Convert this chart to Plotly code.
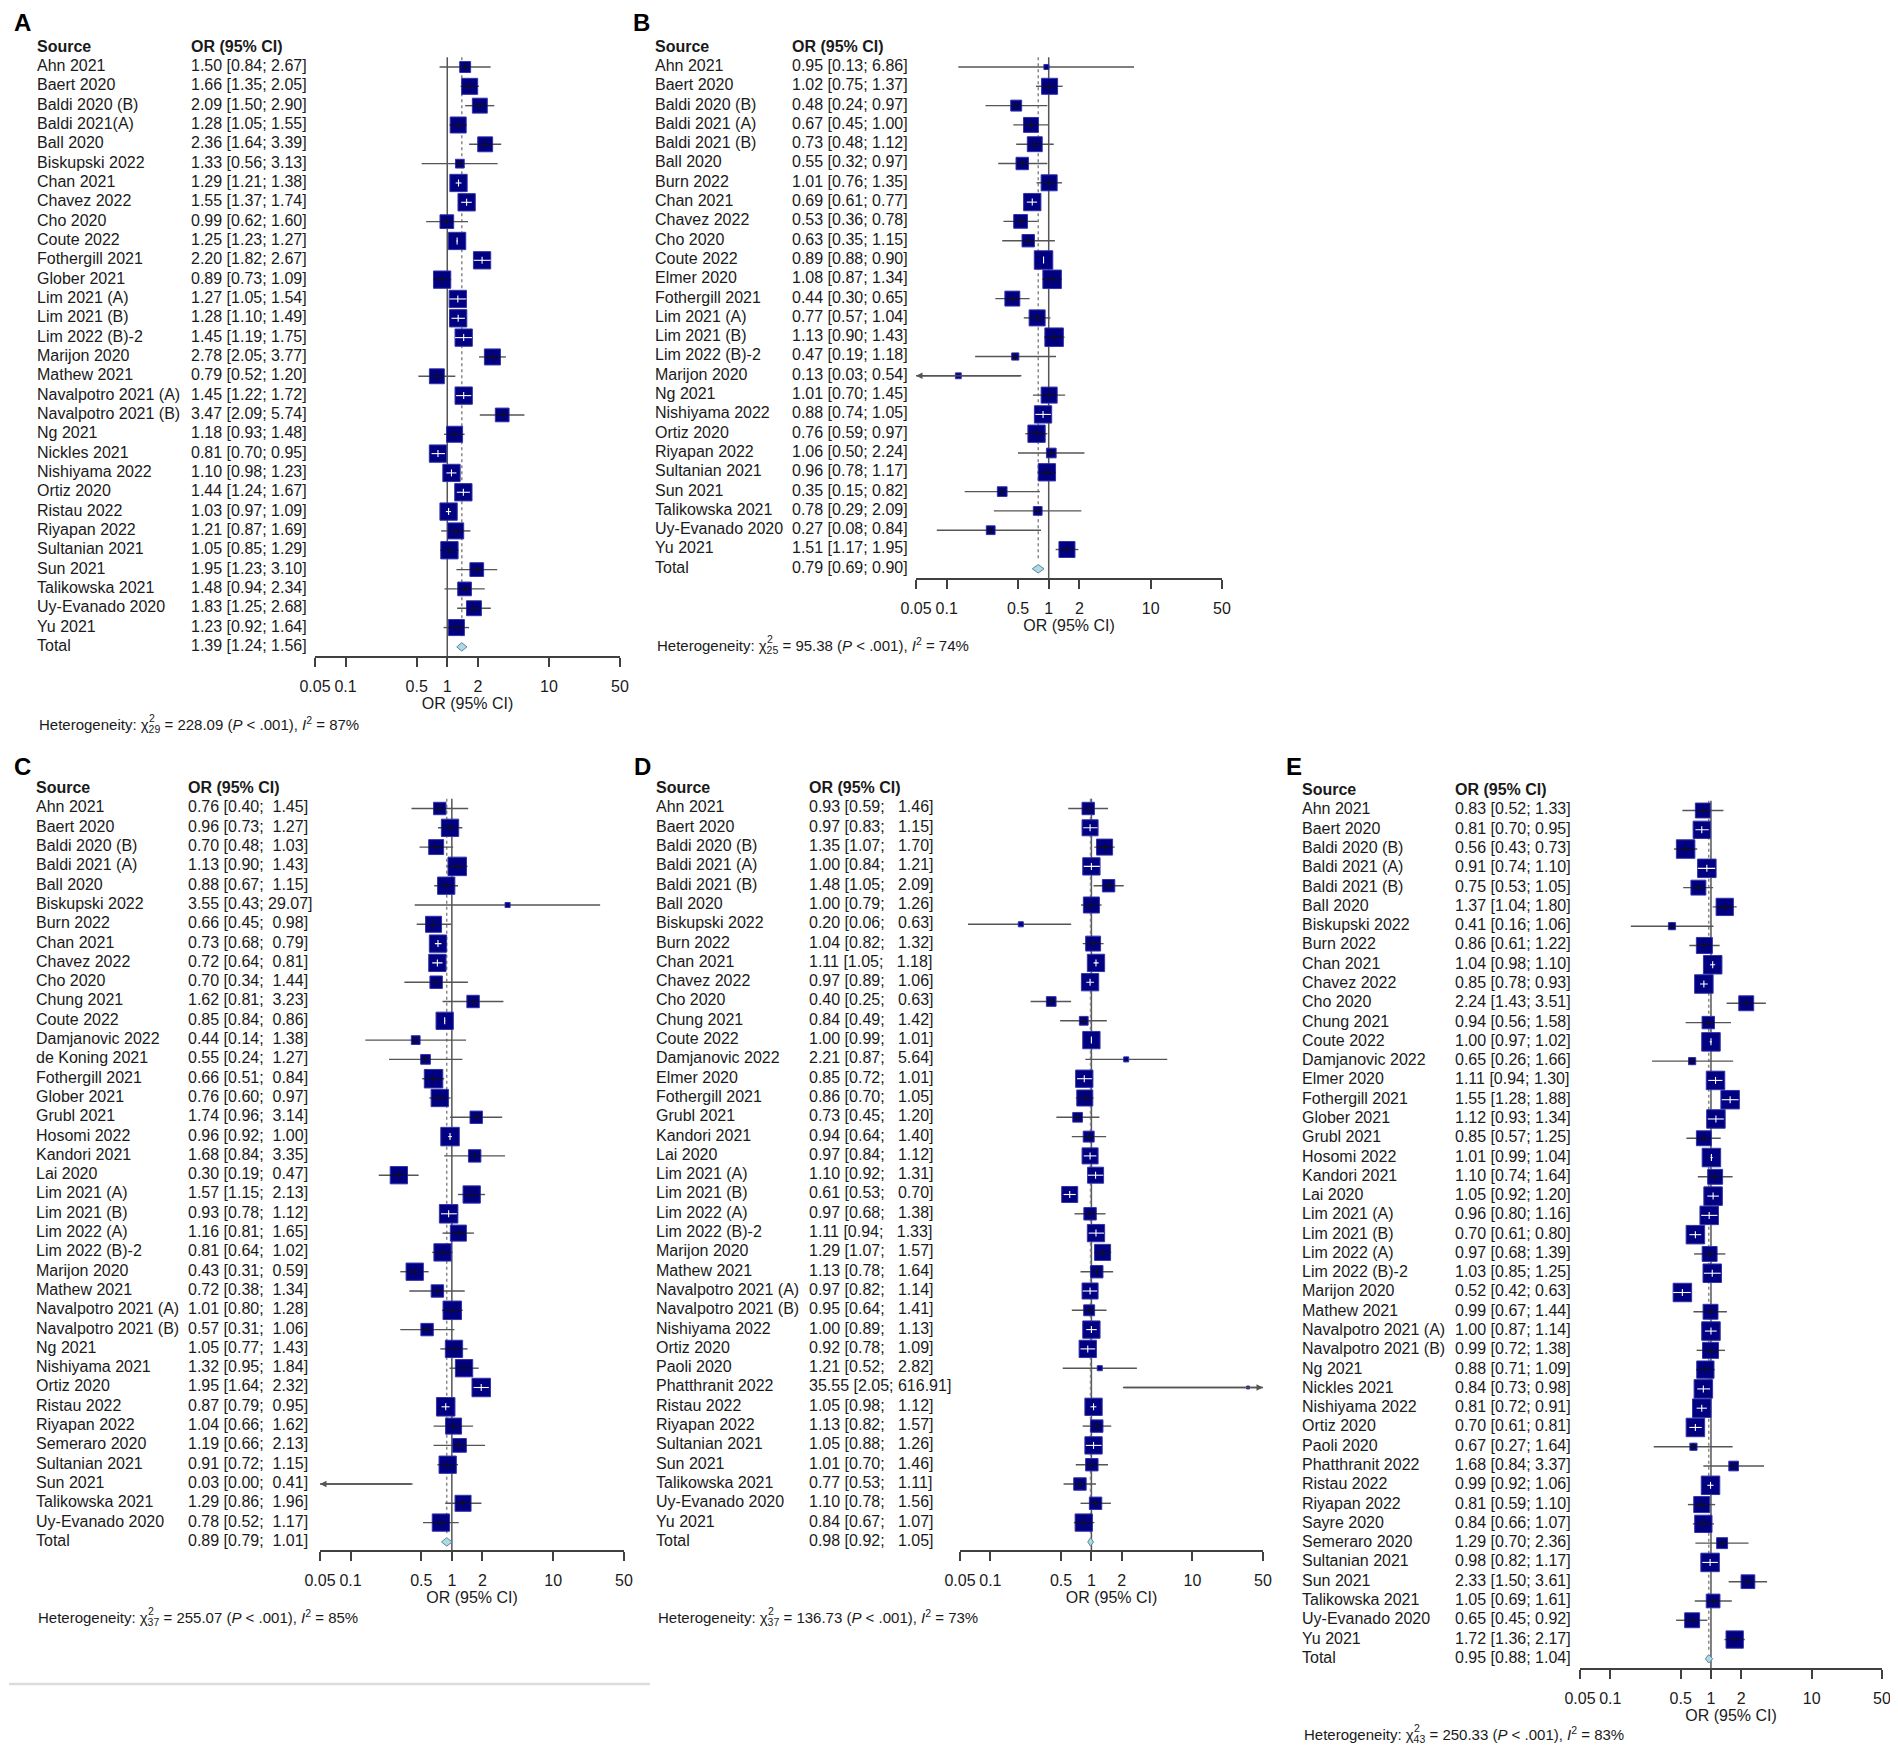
import numpy as np
import plotly.graph_objects as go

# the page body keeps an 8px margin, so the figure is drawn 8px in from the corner
PAGE_W, PAGE_H, OFF = 1898, 1751, 8
W, H = PAGE_W - OFF, PAGE_H - 2 * OFF
FONT = "Liberation Sans, Arial, sans-serif"
NB = "\u00a0"

# ---------------- panel A ----------------
src_a = ["Ahn 2021", "Baert 2020", "Baldi 2020 (B)", "Baldi 2021(A)", "Ball 2020", "Biskupski 2022",
         "Chan 2021", "Chavez 2022", "Cho 2020", "Coute 2022", "Fothergill 2021", "Glober 2021",
         "Lim 2021 (A)", "Lim 2021 (B)", "Lim 2022 (B)-2", "Marijon 2020", "Mathew 2021",
         "Navalpotro 2021 (A)", "Navalpotro 2021 (B)", "Ng 2021", "Nickles 2021", "Nishiyama 2022",
         "Ortiz 2020", "Ristau 2022", "Riyapan 2022", "Sultanian 2021", "Sun 2021", "Talikowska 2021",
         "Uy-Evanado 2020", "Yu 2021"]
or_a = [1.50, 1.66, 2.09, 1.28, 2.36, 1.33, 1.29, 1.55, 0.99, 1.25, 2.20, 0.89, 1.27, 1.28, 1.45,
        2.78, 0.79, 1.45, 3.47, 1.18, 0.81, 1.10, 1.44, 1.03, 1.21, 1.05, 1.95, 1.48, 1.83, 1.23]
lo_a = [0.84, 1.35, 1.50, 1.05, 1.64, 0.56, 1.21, 1.37, 0.62, 1.23, 1.82, 0.73, 1.05, 1.10, 1.19,
        2.05, 0.52, 1.22, 2.09, 0.93, 0.70, 0.98, 1.24, 0.97, 0.87, 0.85, 1.23, 0.94, 1.25, 0.92]
hi_a = [2.67, 2.05, 2.90, 1.55, 3.39, 3.13, 1.38, 1.74, 1.60, 1.27, 2.67, 1.09, 1.54, 1.49, 1.75,
        3.77, 1.20, 1.72, 5.74, 1.48, 0.95, 1.23, 1.67, 1.09, 1.69, 1.29, 3.10, 2.34, 2.68, 1.64]
w_a = [1.4, 3.0, 2.6, 3.0, 2.6, 0.9, 3.5, 3.5, 2.2, 3.5, 3.5, 3.5, 3.5, 3.5, 3.5, 3.0, 2.6, 3.5,
       2.2, 3.0, 3.5, 3.5, 3.5, 3.5, 3.0, 3.5, 2.2, 2.2, 2.6, 3.0]
tot_a = (1.39, 1.24, 1.56)
het_a = ("29", "228.09", "87")

# ---------------- panel B ----------------
src_b = ["Ahn 2021", "Baert 2020", "Baldi 2020 (B)", "Baldi 2021 (A)", "Baldi 2021 (B)", "Ball 2020",
         "Burn 2022", "Chan 2021", "Chavez 2022", "Cho 2020", "Coute 2022", "Elmer 2020",
         "Fothergill 2021", "Lim 2021 (A)", "Lim 2021 (B)", "Lim 2022 (B)-2", "Marijon 2020",
         "Ng 2021", "Nishiyama 2022", "Ortiz 2020", "Riyapan 2022", "Sultanian 2021", "Sun 2021",
         "Talikowska 2021", "Uy-Evanado 2020", "Yu 2021"]
or_b = [0.95, 1.02, 0.48, 0.67, 0.73, 0.55, 1.01, 0.69, 0.53, 0.63, 0.89, 1.08, 0.44, 0.77, 1.13,
        0.47, 0.13, 1.01, 0.88, 0.76, 1.06, 0.96, 0.35, 0.78, 0.27, 1.51]
lo_b = [0.13, 0.75, 0.24, 0.45, 0.48, 0.32, 0.76, 0.61, 0.36, 0.35, 0.88, 0.87, 0.30, 0.57, 0.90,
        0.19, 0.03, 0.70, 0.74, 0.59, 0.50, 0.78, 0.15, 0.29, 0.08, 1.17]
hi_b = [6.86, 1.37, 0.97, 1.00, 1.12, 0.97, 1.35, 0.77, 0.78, 1.15, 0.90, 1.34, 0.65, 1.04, 1.43,
        1.18, 0.54, 1.45, 1.05, 0.97, 2.24, 1.17, 0.82, 2.09, 0.84, 1.95]
w_b = [0.3, 3.0, 1.4, 2.6, 2.6, 1.8, 3.0, 3.5, 2.2, 1.8, 4.0, 4.0, 2.6, 3.0, 4.0, 0.6, 0.4, 3.0,
       3.5, 3.5, 1.1, 3.5, 1.1, 0.9, 0.9, 3.0]
tot_b = (0.79, 0.69, 0.90)
het_b = ("25", "95.38", "74")

# ---------------- panel C ----------------
src_c = ["Ahn 2021", "Baert 2020", "Baldi 2020 (B)", "Baldi 2021 (A)", "Ball 2020", "Biskupski 2022",
         "Burn 2022", "Chan 2021", "Chavez 2022", "Cho 2020", "Chung 2021", "Coute 2022",
         "Damjanovic 2022", "de Koning 2021", "Fothergill 2021", "Glober 2021", "Grubl 2021",
         "Hosomi 2022", "Kandori 2021", "Lai 2020", "Lim 2021 (A)", "Lim 2021 (B)", "Lim 2022 (A)",
         "Lim 2022 (B)-2", "Marijon 2020", "Mathew 2021", "Navalpotro 2021 (A)", "Navalpotro 2021 (B)",
         "Ng 2021", "Nishiyama 2021", "Ortiz 2020", "Ristau 2022", "Riyapan 2022", "Semeraro 2020",
         "Sultanian 2021", "Sun 2021", "Talikowska 2021", "Uy-Evanado 2020"]
or_c = [0.76, 0.96, 0.70, 1.13, 0.88, 3.55, 0.66, 0.73, 0.72, 0.70, 1.62, 0.85, 0.44, 0.55, 0.66,
        0.76, 1.74, 0.96, 1.68, 0.30, 1.57, 0.93, 1.16, 0.81, 0.43, 0.72, 1.01, 0.57, 1.05, 1.32,
        1.95, 0.87, 1.04, 1.19, 0.91, 0.03, 1.29, 0.78]
lo_c = [0.40, 0.73, 0.48, 0.90, 0.67, 0.43, 0.45, 0.68, 0.64, 0.34, 0.81, 0.84, 0.14, 0.24, 0.51,
        0.60, 0.96, 0.92, 0.84, 0.19, 1.15, 0.78, 0.81, 0.64, 0.31, 0.38, 0.80, 0.31, 0.77, 0.95,
        1.64, 0.79, 0.66, 0.66, 0.72, 0.00, 0.86, 0.52]
hi_c = [1.45, 1.27, 1.03, 1.43, 1.15, 29.07, 0.98, 0.79, 0.81, 1.44, 3.23, 0.86, 1.38, 1.27, 0.84,
        0.97, 3.14, 1.00, 3.35, 0.47, 2.13, 1.12, 1.65, 1.02, 0.59, 1.34, 1.28, 1.06, 1.43, 1.84,
        2.32, 0.95, 1.62, 2.13, 1.15, 0.41, 1.96, 1.17]
w_c = [1.8, 3.5, 2.6, 4.0, 3.5, 0.3, 3.0, 3.5, 3.5, 1.8, 1.8, 3.5, 0.9, 1.1, 4.0, 3.5, 1.8, 4.0,
       1.8, 3.5, 3.5, 4.0, 3.0, 3.5, 3.5, 1.8, 4.0, 1.8, 3.5, 3.5, 4.0, 4.0, 3.0, 2.2, 3.5, 0.1,
       3.0, 3.5]
tot_c = (0.89, 0.79, 1.01)
het_c = ("37", "255.07", "85")

# ---------------- panel D ----------------
src_d = ["Ahn 2021", "Baert 2020", "Baldi 2020 (B)", "Baldi 2021 (A)", "Baldi 2021 (B)", "Ball 2020",
         "Biskupski 2022", "Burn 2022", "Chan 2021", "Chavez 2022", "Cho 2020", "Chung 2021",
         "Coute 2022", "Damjanovic 2022", "Elmer 2020", "Fothergill 2021", "Grubl 2021",
         "Kandori 2021", "Lai 2020", "Lim 2021 (A)", "Lim 2021 (B)", "Lim 2022 (A)", "Lim 2022 (B)-2",
         "Marijon 2020", "Mathew 2021", "Navalpotro 2021 (A)", "Navalpotro 2021 (B)", "Nishiyama 2022",
         "Ortiz 2020", "Paoli 2020", "Phatthranit 2022", "Ristau 2022", "Riyapan 2022",
         "Sultanian 2021", "Sun 2021", "Talikowska 2021", "Uy-Evanado 2020", "Yu 2021"]
or_d = [0.93, 0.97, 1.35, 1.00, 1.48, 1.00, 0.20, 1.04, 1.11, 0.97, 0.40, 0.84, 1.00, 2.21, 0.85,
        0.86, 0.73, 0.94, 0.97, 1.10, 0.61, 0.97, 1.11, 1.29, 1.13, 0.97, 0.95, 1.00, 0.92, 1.21,
        35.55, 1.05, 1.13, 1.05, 1.01, 0.77, 1.10, 0.84]
lo_d = [0.59, 0.83, 1.07, 0.84, 1.05, 0.79, 0.06, 0.82, 1.05, 0.89, 0.25, 0.49, 0.99, 0.87, 0.72,
        0.70, 0.45, 0.64, 0.84, 0.92, 0.53, 0.68, 0.94, 1.07, 0.78, 0.82, 0.64, 0.89, 0.78, 0.52,
        2.05, 0.98, 0.82, 0.88, 0.70, 0.53, 0.78, 0.67]
hi_d = [1.46, 1.15, 1.70, 1.21, 2.09, 1.26, 0.63, 1.32, 1.18, 1.06, 0.63, 1.42, 1.01, 5.64, 1.01,
        1.05, 1.20, 1.40, 1.12, 1.31, 0.70, 1.38, 1.33, 1.57, 1.64, 1.14, 1.41, 1.13, 1.09, 2.82,
        616.91, 1.12, 1.57, 1.26, 1.46, 1.11, 1.56, 1.07]
w_d = [1.8, 3.0, 3.0, 3.5, 1.8, 3.0, 0.3, 2.6, 3.5, 3.5, 1.1, 0.9, 3.5, 0.3, 3.5, 3.0, 1.1, 1.4,
       3.0, 3.0, 3.0, 1.8, 3.5, 3.0, 1.8, 3.0, 1.4, 3.5, 3.5, 0.3, 0.1, 3.5, 1.8, 3.5, 1.8, 1.8,
       1.8, 3.5]
tot_d = (0.98, 0.92, 1.05)
het_d = ("37", "136.73", "73")

# ---------------- panel E ----------------
src_e = ["Ahn 2021", "Baert 2020", "Baldi 2020 (B)", "Baldi 2021 (A)", "Baldi 2021 (B)", "Ball 2020",
         "Biskupski 2022", "Burn 2022", "Chan 2021", "Chavez 2022", "Cho 2020", "Chung 2021",
         "Coute 2022", "Damjanovic 2022", "Elmer 2020", "Fothergill 2021", "Glober 2021", "Grubl 2021",
         "Hosomi 2022", "Kandori 2021", "Lai 2020", "Lim 2021 (A)", "Lim 2021 (B)", "Lim 2022 (A)",
         "Lim 2022 (B)-2", "Marijon 2020", "Mathew 2021", "Navalpotro 2021 (A)", "Navalpotro 2021 (B)",
         "Ng 2021", "Nickles 2021", "Nishiyama 2022", "Ortiz 2020", "Paoli 2020", "Phatthranit 2022",
         "Ristau 2022", "Riyapan 2022", "Sayre 2020", "Semeraro 2020", "Sultanian 2021", "Sun 2021",
         "Talikowska 2021", "Uy-Evanado 2020", "Yu 2021"]
or_e = [0.83, 0.81, 0.56, 0.91, 0.75, 1.37, 0.41, 0.86, 1.04, 0.85, 2.24, 0.94, 1.00, 0.65, 1.11,
        1.55, 1.12, 0.85, 1.01, 1.10, 1.05, 0.96, 0.70, 0.97, 1.03, 0.52, 0.99, 1.00, 0.99, 0.88,
        0.84, 0.81, 0.70, 0.67, 1.68, 0.99, 0.81, 0.84, 1.29, 0.98, 2.33, 1.05, 0.65, 1.72]
lo_e = [0.52, 0.70, 0.43, 0.74, 0.53, 1.04, 0.16, 0.61, 0.98, 0.78, 1.43, 0.56, 0.97, 0.26, 0.94,
        1.28, 0.93, 0.57, 0.99, 0.74, 0.92, 0.80, 0.61, 0.68, 0.85, 0.42, 0.67, 0.87, 0.72, 0.71,
        0.73, 0.72, 0.61, 0.27, 0.84, 0.92, 0.59, 0.66, 0.70, 0.82, 1.50, 0.69, 0.45, 1.36]
hi_e = [1.33, 0.95, 0.73, 1.10, 1.05, 1.80, 1.06, 1.22, 1.10, 0.93, 3.51, 1.58, 1.02, 1.66, 1.30,
        1.88, 1.34, 1.25, 1.04, 1.64, 1.20, 1.16, 0.80, 1.39, 1.25, 0.63, 1.44, 1.14, 1.38, 1.09,
        0.98, 0.91, 0.81, 1.64, 3.37, 1.06, 1.10, 1.07, 2.36, 1.17, 3.61, 1.61, 0.92, 2.17]
w_e = [2.6, 3.5, 4.0, 4.0, 2.6, 3.5, 0.6, 3.0, 4.0, 4.0, 2.6, 1.8, 4.0, 0.6, 4.0, 4.0, 4.0, 2.6,
       4.0, 2.6, 4.0, 4.0, 4.0, 2.6, 4.0, 4.0, 2.6, 4.0, 3.0, 3.5, 4.0, 4.0, 4.0, 0.6, 1.1, 4.0,
       3.0, 3.5, 1.4, 4.0, 2.2, 2.2, 2.6, 3.5]
tot_e = (0.95, 0.88, 1.04)
het_e = ("43", "250.33", "83")

ticks = [0.05, 0.1, 0.5, 1, 2, 10, 50]
tick_text = ["0.05", "0.1", "0.5", "1", "2", "10", "50"]

# page geometry of each panel, in page pixels (lab = left edge and top of the panel letter)
panels = [
    ("A", src_a, or_a, lo_a, hi_a, w_a, tot_a, het_a,
     dict(lab=(13, 8), src=37, ci=191, r0=67, dy=19.33, ax=656, f0=315, f1=620, het=724)),
    ("B", src_b, or_b, lo_b, hi_b, w_b, tot_b, het_b,
     dict(lab=(632, 8), src=655, ci=792, r0=67, dy=19.3, ax=578, f0=916, f1=1222, het=645)),
    ("C", src_c, or_c, lo_c, hi_c, w_c, tot_c, het_c,
     dict(lab=(13, 752), src=36, ci=188, r0=808.5, dy=19.3, ax=1550, f0=320, f1=624, het=1617)),
    ("D", src_d, or_d, lo_d, hi_d, w_d, tot_d, het_d,
     dict(lab=(633, 752), src=656, ci=809, r0=808.5, dy=19.3, ax=1550, f0=960, f1=1263, het=1617)),
    ("E", src_e, or_e, lo_e, hi_e, w_e, tot_e, het_e,
     dict(lab=(1285, 752), src=1302, ci=1455, r0=810.5, dy=19.28, ax=1668, f0=1580, f1=1882, het=1734)),
]


def px_x(v):
    return (v - OFF) / W


def px_y(v):
    return 1 - (v - OFF) / H


XMIN, XMAX = 0.05, 50
CI_COL = "#555555"
BOX = "#000080"
TXT = "#1a1a1a"


def fmt_rows(est, lo, hi):
    s_lo = [f"{v:.2f}" for v in lo]
    s_hi = [f"{v:.2f}" for v in hi]
    wl = max(len(s) for s in s_lo)
    wh = max(len(s) for s in s_hi)
    return [f"{e:.2f} [{NB * (wl - len(a))}{a};{NB}{NB * (wh - len(b))}{b}]"
            for e, a, b in zip(est, s_lo, s_hi)]


fig = go.Figure()
annotations = []
layout_axes = {}

for k, (letter, names, est, lo, hi, w, tot, het, g) in enumerate(panels, start=1):
    assert len(names) == len(est) == len(lo) == len(hi) == len(w)
    n = len(names)
    xa, xt, ya = f"x{k}", f"x{k + 5}", f"y{k}"
    ppd = (g["f1"] - g["f0"]) / (np.log10(XMAX) - np.log10(XMIN))
    ybot = (g["ax"] - g["r0"]) / g["dy"]
    ytop = -1.6
    top_px = g["r0"] + ytop * g["dy"]

    est = np.array(est)
    lo = np.array(lo)
    hi = np.array(hi)
    side = 18.5 * np.sqrt(np.array(w) / 4.0)
    rows = np.arange(n)

    # reference line at 1 and dotted line at pooled estimate
    fig.add_trace(go.Scatter(x=[1, 1], y=[-0.5, ybot], mode="lines", xaxis=xa, yaxis=ya,
                             line=dict(color="#555555", width=1.5), hoverinfo="skip"))
    fig.add_trace(go.Scatter(x=[tot[0], tot[0]], y=[-0.5, n - 0.45], mode="lines", xaxis=xa, yaxis=ya,
                             line=dict(color="#888888", width=1.5, dash="dot"), hoverinfo="skip"))

    # confidence interval lines (clipped to axis range)
    cl = np.clip(lo, XMIN, XMAX)
    ch = np.clip(hi, XMIN, XMAX)
    xs, ys = [], []
    for i in range(n):
        xs += [cl[i], ch[i], None]
        ys += [i, i, None]
    fig.add_trace(go.Scatter(x=xs, y=ys, mode="lines", xaxis=xa, yaxis=ya,
                             line=dict(color=CI_COL, width=1.4), hoverinfo="skip"))

    # squares
    vis = (est >= XMIN) & (est <= XMAX)
    fig.add_trace(go.Scatter(x=est[vis], y=rows[vis], mode="markers", xaxis=xa, yaxis=ya,
                             marker=dict(symbol="square", size=side[vis], color=BOX, opacity=1,
                                         line=dict(color="#3333aa", width=1)),
                             hoverinfo="skip"))

    # line segment drawn over each square (white when the whole CI fits inside the square)
    span = (np.log10(ch) - np.log10(cl)) * ppd
    inside = span < side
    for flag, col in ((True, "white"), (False, "#111111")):
        xs, ys, tx, ty = [], [], [], []
        for i in range(n):
            if inside[i] != flag or not vis[i] or side[i] < 6:
                continue
            half = side[i] / 2.0 / ppd
            a = max(cl[i], est[i] * 10 ** (-half))
            b = min(ch[i], est[i] * 10 ** half)
            xs += [a, b, None]
            ys += [i, i, None]
            tx.append(est[i])
            ty.append(i)
        if xs:
            fig.add_trace(go.Scatter(x=xs, y=ys, mode="lines", xaxis=xa, yaxis=ya,
                                     line=dict(color=col, width=1.1), hoverinfo="skip"))
            fig.add_trace(go.Scatter(x=tx, y=ty, mode="markers", xaxis=xa, yaxis=ya,
                                     marker=dict(symbol="line-ns", size=5, opacity=1,
                                                 line=dict(color=col, width=1.1)),
                                     hoverinfo="skip"))

    # arrows for intervals running past the axis
    for i in range(n):
        if lo[i] < XMIN:
            annotations.append(dict(x=np.log10(XMIN), y=i, ax=np.log10(ch[i]), ay=i,
                                    xref=xa, yref=ya, axref=xa, ayref=ya, text="",
                                    showarrow=True, arrowhead=2, arrowsize=1, arrowwidth=1.3,
                                    arrowcolor=CI_COL))
        if hi[i] > XMAX:
            annotations.append(dict(x=np.log10(XMAX), y=i, ax=np.log10(cl[i]), ay=i,
                                    xref=xa, yref=ya, axref=xa, ayref=ya, text="",
                                    showarrow=True, arrowhead=2, arrowsize=1, arrowwidth=1.3,
                                    arrowcolor=CI_COL))

    # pooled diamond
    e0, l0, h0 = tot
    fig.add_trace(go.Scatter(x=[l0, e0, h0, e0, l0], y=[n, n - 0.22, n, n + 0.22, n],
                             mode="lines", fill="toself", fillcolor="#add8e6", xaxis=xa, yaxis=ya,
                             line=dict(color="#5f8896", width=1), hoverinfo="skip"))

    # table columns
    ci_txt = fmt_rows(list(est) + [e0], list(lo) + [l0], list(hi) + [h0])
    fig.add_trace(go.Scatter(x=[g["src"]] * (n + 1), y=list(range(n + 1)), mode="text",
                             text=list(names) + ["Total"], textposition="middle right",
                             textfont=dict(family=FONT, size=16, color=TXT), cliponaxis=False,
                             xaxis=xt, yaxis=ya, hoverinfo="skip"))
    fig.add_trace(go.Scatter(x=[g["ci"]] * (n + 1), y=list(range(n + 1)), mode="text",
                             text=ci_txt, textposition="middle right",
                             textfont=dict(family=FONT, size=16, color=TXT), cliponaxis=False,
                             xaxis=xt, yaxis=ya, hoverinfo="skip"))
    fig.add_trace(go.Scatter(x=[g["src"], g["ci"]], y=[-1, -1], mode="text",
                             text=["<b>Source</b>", "<b>OR (95% CI)</b>"], textposition="middle right",
                             textfont=dict(family=FONT, size=16, color=TXT), cliponaxis=False,
                             xaxis=xt, yaxis=ya, hoverinfo="skip"))

    # axes
    layout_axes[f"xaxis{k}"] = dict(
        type="log", range=[np.log10(XMIN), np.log10(XMAX)], domain=[px_x(g["f0"]), px_x(g["f1"])],
        anchor=ya, tickvals=ticks, ticktext=tick_text, ticks="outside", ticklen=9, tickwidth=1.5,
        tickcolor="#404040", showline=True, linecolor="#404040", linewidth=1.5, showgrid=False,
        zeroline=False, automargin=False, tickfont=dict(family=FONT, size=16, color=TXT),
        ticklabelstandoff=6,
        title=dict(text="OR (95% CI)", font=dict(family=FONT, size=16, color=TXT), standoff=2))
    layout_axes[f"xaxis{k + 5}"] = dict(
        range=[g["src"], g["f0"]], domain=[px_x(g["src"]), px_x(g["f0"])], anchor=ya, visible=False,
        automargin=False)
    layout_axes[f"yaxis{k}"] = dict(
        range=[ybot, ytop], domain=[px_y(g["ax"]), px_y(top_px)], anchor=xa, visible=False,
        automargin=False)

    # panel letter and heterogeneity line (the chi-square "2" sits above its df subscript)
    annotations.append(dict(x=px_x(g["lab"][0]), y=px_y(g["lab"][1]), xref="paper", yref="paper",
                            text=f"<b>{letter}</b>", showarrow=False, xanchor="left", yanchor="top",
                            borderpad=0, font=dict(family=FONT, size=24, color="#000000")))
    df, chi, i2 = het
    annotations.append(dict(
        x=px_x(g["src"]), y=px_y(g["het"]), xref="paper", yref="paper", showarrow=False,
        xanchor="left", yanchor="middle", font=dict(family=FONT, size=15, color=TXT),
        text=f"Heterogeneity: χ<sub>{df}</sub> = {chi} (<i>P</i> &lt; .001), "
             f"<i>I</i><sup>2</sup> = {i2}%"))
    annotations.append(dict(
        x=px_x(g["src"] + 110), y=px_y(g["het"] - 6), xref="paper", yref="paper", showarrow=False,
        xanchor="left", yanchor="middle", font=dict(family=FONT, size=10.5, color=TXT), text="2"))

fig.update_layout(
    template="none",
    width=W, height=H, margin=dict(l=0, r=0, t=0, b=0, pad=0), autosize=False,
    paper_bgcolor="white", plot_bgcolor="white", showlegend=False,
    annotations=annotations,
    shapes=[dict(type="line", xref="paper", yref="paper", x0=px_x(9), x1=px_x(650),
                 y0=px_y(1684), y1=px_y(1684), line=dict(color="#dcdcdc", width=2.5))],
    **layout_axes,
)

fig.write_html("out.html")
